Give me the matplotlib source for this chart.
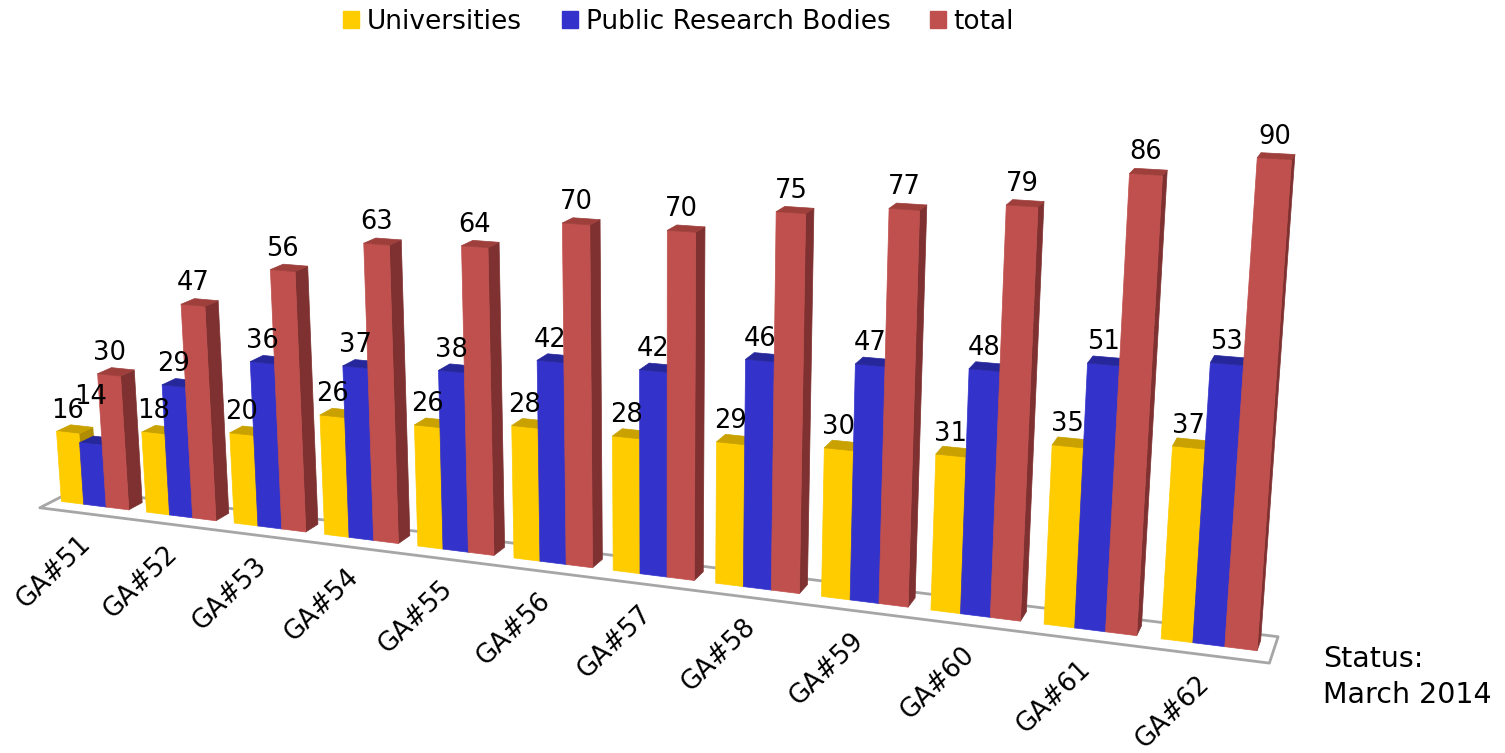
import numpy as np
import matplotlib
matplotlib.use('Agg')
import matplotlib.pyplot as plt
from matplotlib.patches import Patch
from matplotlib.transforms import offset_copy
from mpl_toolkits.mplot3d import proj3d
from mpl_toolkits.mplot3d.art3d import Poly3DCollection

groups = ['GA#51', 'GA#52', 'GA#53', 'GA#54', 'GA#55', 'GA#56',
          'GA#57', 'GA#58', 'GA#59', 'GA#60', 'GA#61', 'GA#62']
universities = [16, 18, 20, 26, 26, 28, 28, 29, 30, 31, 35, 37]
public_bodies = [14, 29, 36, 37, 38, 42, 42, 46, 47, 48, 51, 53]
total = [30, 47, 56, 63, 64, 70, 70, 75, 77, 79, 86, 90]
series_names = ['Universities', 'Public Research Bodies', 'total']

front = ['#FFCC00', '#3333CC', '#C0504D']
top = ['#C9A100', '#27279C', '#9E3F3C']
side = ['#B08C00', '#23238A', '#7E3130']

W, H = 1505, 753
fig = plt.figure(figsize=(15.05, 7.53), dpi=100)
# square 3d axes, camera tuned to the reference perspective
S = 696
ax = fig.add_axes([(569.4 - S / 2) / W, (348.5 - S / 2) / H, S / W, S / H],
                  projection='3d', computed_zorder=False)
ax.set_axis_off()
ax.view_init(elev=15.4372, azim=-68.121, roll=0.5315)
ax.set_proj_type('persp', focal_length=0.64324)
ax.set_box_aspect((1, 0.04214, 0.38612), zoom=1.91988)
cx, cy, cz = 5.0833, 1.8949, 32.6121
ax.set_xlim(cx - 6, cx + 6)
ax.set_ylim(cy - 1, cy + 1)
ax.set_zlim(cz - 50, cz + 50)
fig.canvas.draw()
renderer = fig.canvas.get_renderer()

bw = 0.2647  # bar width, group spacing = 1, bar depth = 1
values = [universities, public_bodies, total]

# floor plate
fx0, fx1, fy0, fy1 = -0.50, 11.52, -0.95, 1.6
floor = [[(fx0, fy0, 0), (fx1, fy0, 0), (fx1, fy1, 0), (fx0, fy1, 0)]]
fc = Poly3DCollection(floor, facecolors='white', edgecolors='#A6A6A6', linewidths=2)
fc.set_clip_on(False)
fc.set_zorder(1)
ax.add_collection3d(fc)

M = ax.get_proj()
zo = 2
prev = None
for g in range(len(groups)):
    for k in range(3):
        h = values[k][g]
        x0 = g + (k - 1.5) * bw
        x1 = x0 + bw
        faces = [[(x0, 0, 0), (x1, 0, 0), (x1, 0, h), (x0, 0, h)],
                 [(x0, 0, h), (x1, 0, h), (x1, 1, h), (x0, 1, h)],
                 [(x1, 0, 0), (x1, 1, 0), (x1, 1, h), (x1, 0, h)]]
        cols = [front[k], top[k], side[k]]
        pc = Poly3DCollection(faces, facecolors=cols, edgecolors=cols, linewidths=0.5)
        pc.set_clip_on(False)
        pc.set_zorder(zo)
        zo += 1
        ax.add_collection3d(pc)

        lx, ly, _ = proj3d.proj_transform(x0 + bw / 2, 0, h, M)
        t = ax.text2D(lx, ly, str(h), ha='center', va='bottom', fontsize=18.5,
                      transform=offset_copy(ax.transData, fig=fig, y=9, units='dots'),
                      zorder=500)
        bb = t.get_window_extent(renderer)
        if prev is not None and bb.overlaps(prev):
            # lift a label that collides with its neighbour
            dy = prev.y1 - bb.y0 - 12
            t.set_transform(offset_copy(ax.transData, fig=fig, y=9 + dy, units='dots'))
            bb = t.get_window_extent(renderer)
        prev = bb

tick_tr = offset_copy(ax.transData, fig=fig, x=-10, y=-21, units='dots')
for g, name in enumerate(groups):
    gx, gy, _ = proj3d.proj_transform(g, -0.5, 0, M)
    ax.text2D(gx, gy, name, rotation=44, rotation_mode='anchor', ha='right', va='top',
              fontsize=18.5, transform=tick_tr)

handles = [Patch(color=c) for c in front]
fig.legend(handles, series_names, loc='center', bbox_to_anchor=(0.451, 1 - 22 / H),
           ncol=3, frameon=False, fontsize=19, handlelength=0.6, handleheight=0.6,
           handletextpad=0.3, columnspacing=1.5)
fig.text(1323 / W, 1 - 667 / H, 'Status:', fontsize=20.5, va='baseline')
fig.text(1323 / W, 1 - 703 / H, 'March 2014', fontsize=20.5, va='baseline')

fig.savefig('out.png', dpi=100)
